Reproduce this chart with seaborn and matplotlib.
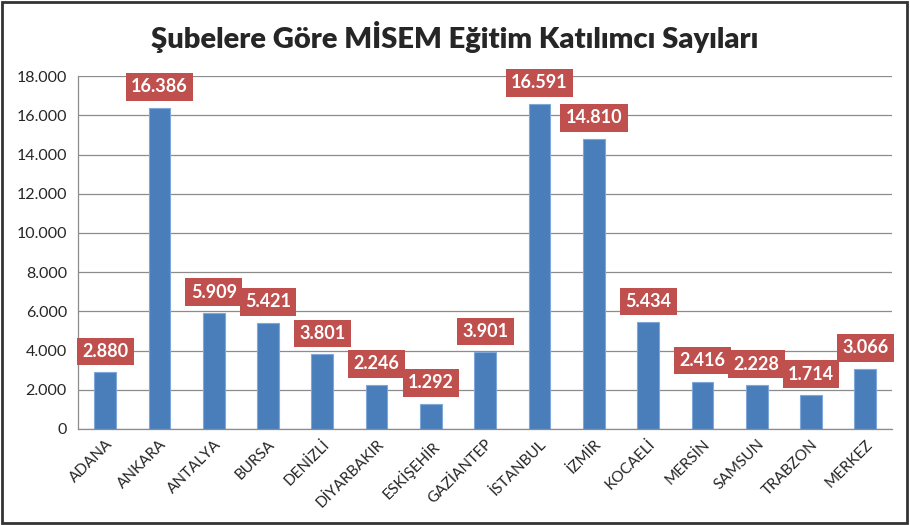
import seaborn as sns
import matplotlib.pyplot as plt
import pandas as pd
from matplotlib.ticker import FuncFormatter, FixedLocator
from matplotlib.patches import Rectangle

# Chart data
branches = ["ADANA", "ANKARA", "ANTALYA", "BURSA", "DENİZLİ", "DİYARBAKIR", "ESKİŞEHİR",
            "GAZİANTEP", "İSTANBUL", "İZMİR", "KOCAELİ", "MERSİN", "SAMSUN", "TRABZON", "MERKEZ"]
participants = [2880, 16386, 5909, 5421, 3801, 2246, 1292, 3901, 16591, 14810, 5434, 2416, 2228, 1714, 3066]
yticks = [0, 2000, 4000, 6000, 8000, 10000, 12000, 14000, 16000, 18000]

df = pd.DataFrame({"branch": branches, "count": participants})

sns.set_style("white")
plt.rcParams['font.family'] = ['Lato', 'DejaVu Sans']

fig = plt.figure(figsize=(9.1, 5.25), dpi=100)
ax = fig.add_axes([0.0857, 0.183, 0.895, 0.672])

sns.barplot(data=df, x="branch", y="count", color="#4A7EBB", width=0.4,
            edgecolor="#7FA7D9", linewidth=0.8, saturation=1, ax=ax)

ax.set_ylim(0, 18000)
ax.set_xlim(-0.5, len(branches) - 0.5)
ax.yaxis.set_major_locator(FixedLocator(yticks))
ax.yaxis.set_major_formatter(FuncFormatter(lambda v, p: f"{int(v):,}".replace(",", ".")))
ax.grid(axis="y", color="#8c8c8c", linewidth=0.9)
ax.set_axisbelow(True)
ax.set_xlabel("")
ax.set_ylabel("")

for s in ["top", "right"]:
    ax.spines[s].set_visible(False)
for s in ["left", "bottom"]:
    ax.spines[s].set_color("#8c8c8c")
    ax.spines[s].set_linewidth(0.9)

ax.tick_params(axis="y", length=0, labelsize=11.5, pad=8)
ax.tick_params(axis="x", which="major", length=0, labelsize=11, pad=6)
ax.set_xticks([i - 0.5 for i in range(len(branches) + 1)], minor=True)
ax.tick_params(axis="x", which="minor", length=5, color="#8c8c8c", width=0.9)
plt.setp(ax.get_xticklabels(), rotation=45, ha="right", rotation_mode="anchor")

# value labels in red boxes
for i, v in enumerate(participants):
    ax.annotate(f"{v:,}".replace(",", "."), xy=(i, v), xytext=(0, 21),
                textcoords="offset pixels", ha="center", va="center",
                fontsize=13, fontweight="bold", color="white",
                bbox=dict(boxstyle="square,pad=0.3", fc="#C0504D", ec="none"))

fig.text(0.5, 0.93, "Şubelere Göre MİSEM Eğitim Katılımcı Sayıları",
         ha="center", va="center", fontsize=21, fontweight="heavy")

fig.patches.append(Rectangle((0.002, 0.003), 0.995, 0.993, transform=fig.transFigure,
                             fill=False, edgecolor="#333333", linewidth=2))

fig.savefig("out.png", dpi=100)
